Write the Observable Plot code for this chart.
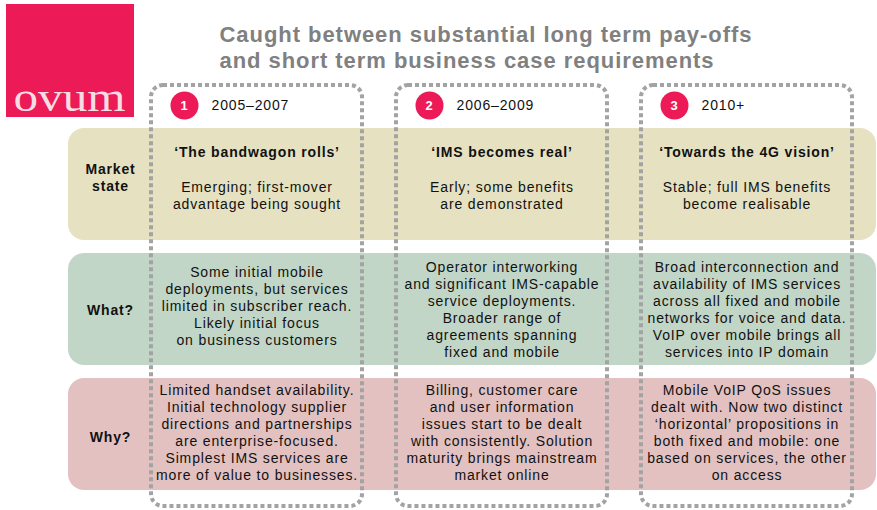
<!DOCTYPE html>
<html>
<head>
<meta charset="utf-8">
<script src="https://cdn.jsdelivr.net/npm/d3@7"></script>
<script src="https://cdn.jsdelivr.net/npm/@observablehq/plot@0.6"></script>
<style>
  html, body { margin: 0; padding: 0; background: #ffffff; }
  #chart svg { display: block; }
</style>
</head>
<body>
<div id="chart"></div>
<script>
// ---------------- data ----------------
const titleLines = ["Caught between substantial long term pay-offs", "and short term business case requirements"];
const logoText = "ovum";
const phaseNumbers = ["1", "2", "3"];
const periods = ["2005–2007", "2006–2009", "2010+"];
const rowLabels = ["Market\nstate", "What?", "Why?"];
const headings = ["‘The bandwagon rolls’", "‘IMS becomes real’", "‘Towards the 4G vision’"];
const marketState = [
  "Emerging; first-mover\nadvantage being sought",
  "Early; some benefits\nare demonstrated",
  "Stable; full IMS benefits\nbecome realisable"
];
const whatText = [
  "Some initial mobile\ndeployments, but services\nlimited in subscriber reach.\nLikely initial focus\non business customers",
  "Operator interworking\nand significant IMS-capable\nservice deployments.\nBroader range of\nagreements spanning\nfixed and mobile",
  "Broad interconnection and\navailability of IMS services\nacross all fixed and mobile\nnetworks for voice and data.\nVoIP over mobile brings all\nservices into IP domain"
];
const whyText = [
  "Limited handset availability.\nInitial technology supplier\ndirections and partnerships\nare enterprise-focused.\nSimplest IMS services are\nmore of value to businesses.",
  "Billing, customer care\nand user information\nissues start to be dealt\nwith consistently. Solution\nmaturity brings mainstream\nmarket online",
  "Mobile VoIP QoS issues\ndealt with. Now two distinct\n‘horizontal’ propositions in\nboth fixed and mobile: one\nbased on services, the other\non access"
];

// ---------------- layout ----------------
const W = 877, H = 510;
const colLeft0 = 151, colWidth = 211, colStep = 245;
const boxTop = 85, boxBottom = 506;
const bandLeft = 68, bandRight = 876, bandTop0 = 128, bandHeight = 112, bandStep = 125;
const bandColors = ["#E5E1C1", "#C1D6C7", "#E3C1C1"];
const brand = "#EC1A57";

const cols = periods.map((p, i) => {
  const x1 = colLeft0 + i * colStep, x2 = x1 + colWidth;
  return {i, x1, x2, xc: (x1 + x2) / 2, num: phaseNumbers[i], period: p,
          heading: headings[i], market: marketState[i], what: whatText[i], why: whyText[i]};
});
const bands = rowLabels.map((label, i) => {
  const y1 = bandTop0 + i * bandStep, y2 = y1 + bandHeight;
  return {i, label, y1, y2, yc: (y1 + y2) / 2, color: bandColors[i]};
});
const labelOffsets = [-7, 0, 2]; // vertical tweak of row labels within their band
const rowLabelX = 110;

const font = "Liberation Sans, Arial, Helvetica, sans-serif";

const chart = Plot.plot({
  width: W,
  height: H,
  margin: 0,
  x: {domain: [0, W], range: [0, W], axis: null},
  y: {domain: [0, H], range: [0, H], axis: null},
  style: {background: "#ffffff", fontFamily: font, letterSpacing: "0.85px"},
  marks: [
    // logo
    Plot.rect([logoText], {x1: () => 6, x2: () => 134, y1: () => 4, y2: () => 117, fill: brand}),
    Plot.text([logoText], {x: () => 13, y: () => 110, text: d => d, textAnchor: "start", lineAnchor: "bottom",
      fontFamily: "Liberation Serif, Times New Roman, serif", fontSize: 42, fill: "#F7DCE4"}),
    // title
    Plot.text([titleLines.join("\n")], {x: () => 219, y: () => 22, text: d => d, textAnchor: "start",
      lineAnchor: "top", lineHeight: 1.22, fontSize: 22, fontWeight: "bold", fill: "#808080"}),
    // row bands
    Plot.rect(bands, {x1: () => bandLeft, x2: () => bandRight, y1: "y1", y2: "y2", fill: "color", rx: 16}),
    // row labels
    Plot.text(bands, {x: () => rowLabelX, y: d => d.yc + labelOffsets[d.i], text: "label",
      fontSize: 14, fontWeight: "bold", lineHeight: 1.2, fill: "#111"}),
    // dashed column boxes
    Plot.rect(cols, {x1: "x1", x2: "x2", y1: () => boxTop, y2: () => boxBottom, fill: "none",
      stroke: "#A3A3A3", strokeWidth: 4, strokeDasharray: "4,3", rx: 12}),
    // phase circles and numbers
    Plot.dot(cols, {x: d => d.x1 + 33, y: () => 105, r: 14, fill: brand, stroke: "none"}),
    Plot.text(cols, {x: d => d.x1 + 33, y: () => 105, text: "num", fill: "#ffffff", fontWeight: "bold", fontSize: 13}),
    Plot.text(cols, {x: d => d.x1 + 60, y: () => 105, text: "period", textAnchor: "start", fontSize: 14, fill: "#111"}),
    // headings
    Plot.text(cols, {x: "xc", y: () => bands[0].y1 + 24, text: "heading", fontSize: 14, fontWeight: "bold", fill: "#111"}),
    // market-state body
    Plot.text(cols, {x: "xc", y: () => bands[0].y1 + 67, text: "market", fontSize: 14, lineHeight: 1.215, fill: "#111"}),
    // what? body
    Plot.text(cols, {x: "xc", y: d => bands[1].yc - (d.i === 0 ? 4 : 0), text: "what", fontSize: 14, lineHeight: 1.215, fill: "#111"}),
    // why? body
    Plot.text(cols, {x: "xc", y: () => bands[2].yc - 2, text: "why", fontSize: 14, lineHeight: 1.215, fill: "#111"})
  ]
});

// fine-tune typography: wider tracking on the title, stretch the logo wordmark
const svg = d3.select(chart);
svg.selectAll('g[font-size="22"]').style("letter-spacing", "0.95px");
svg.selectAll('g[font-size="42"]').style("letter-spacing", "0px")
  .selectAll("text").attr("textLength", 112).attr("lengthAdjust", "spacingAndGlyphs");

document.getElementById("chart").appendChild(chart);
</script>
</body>
</html>
